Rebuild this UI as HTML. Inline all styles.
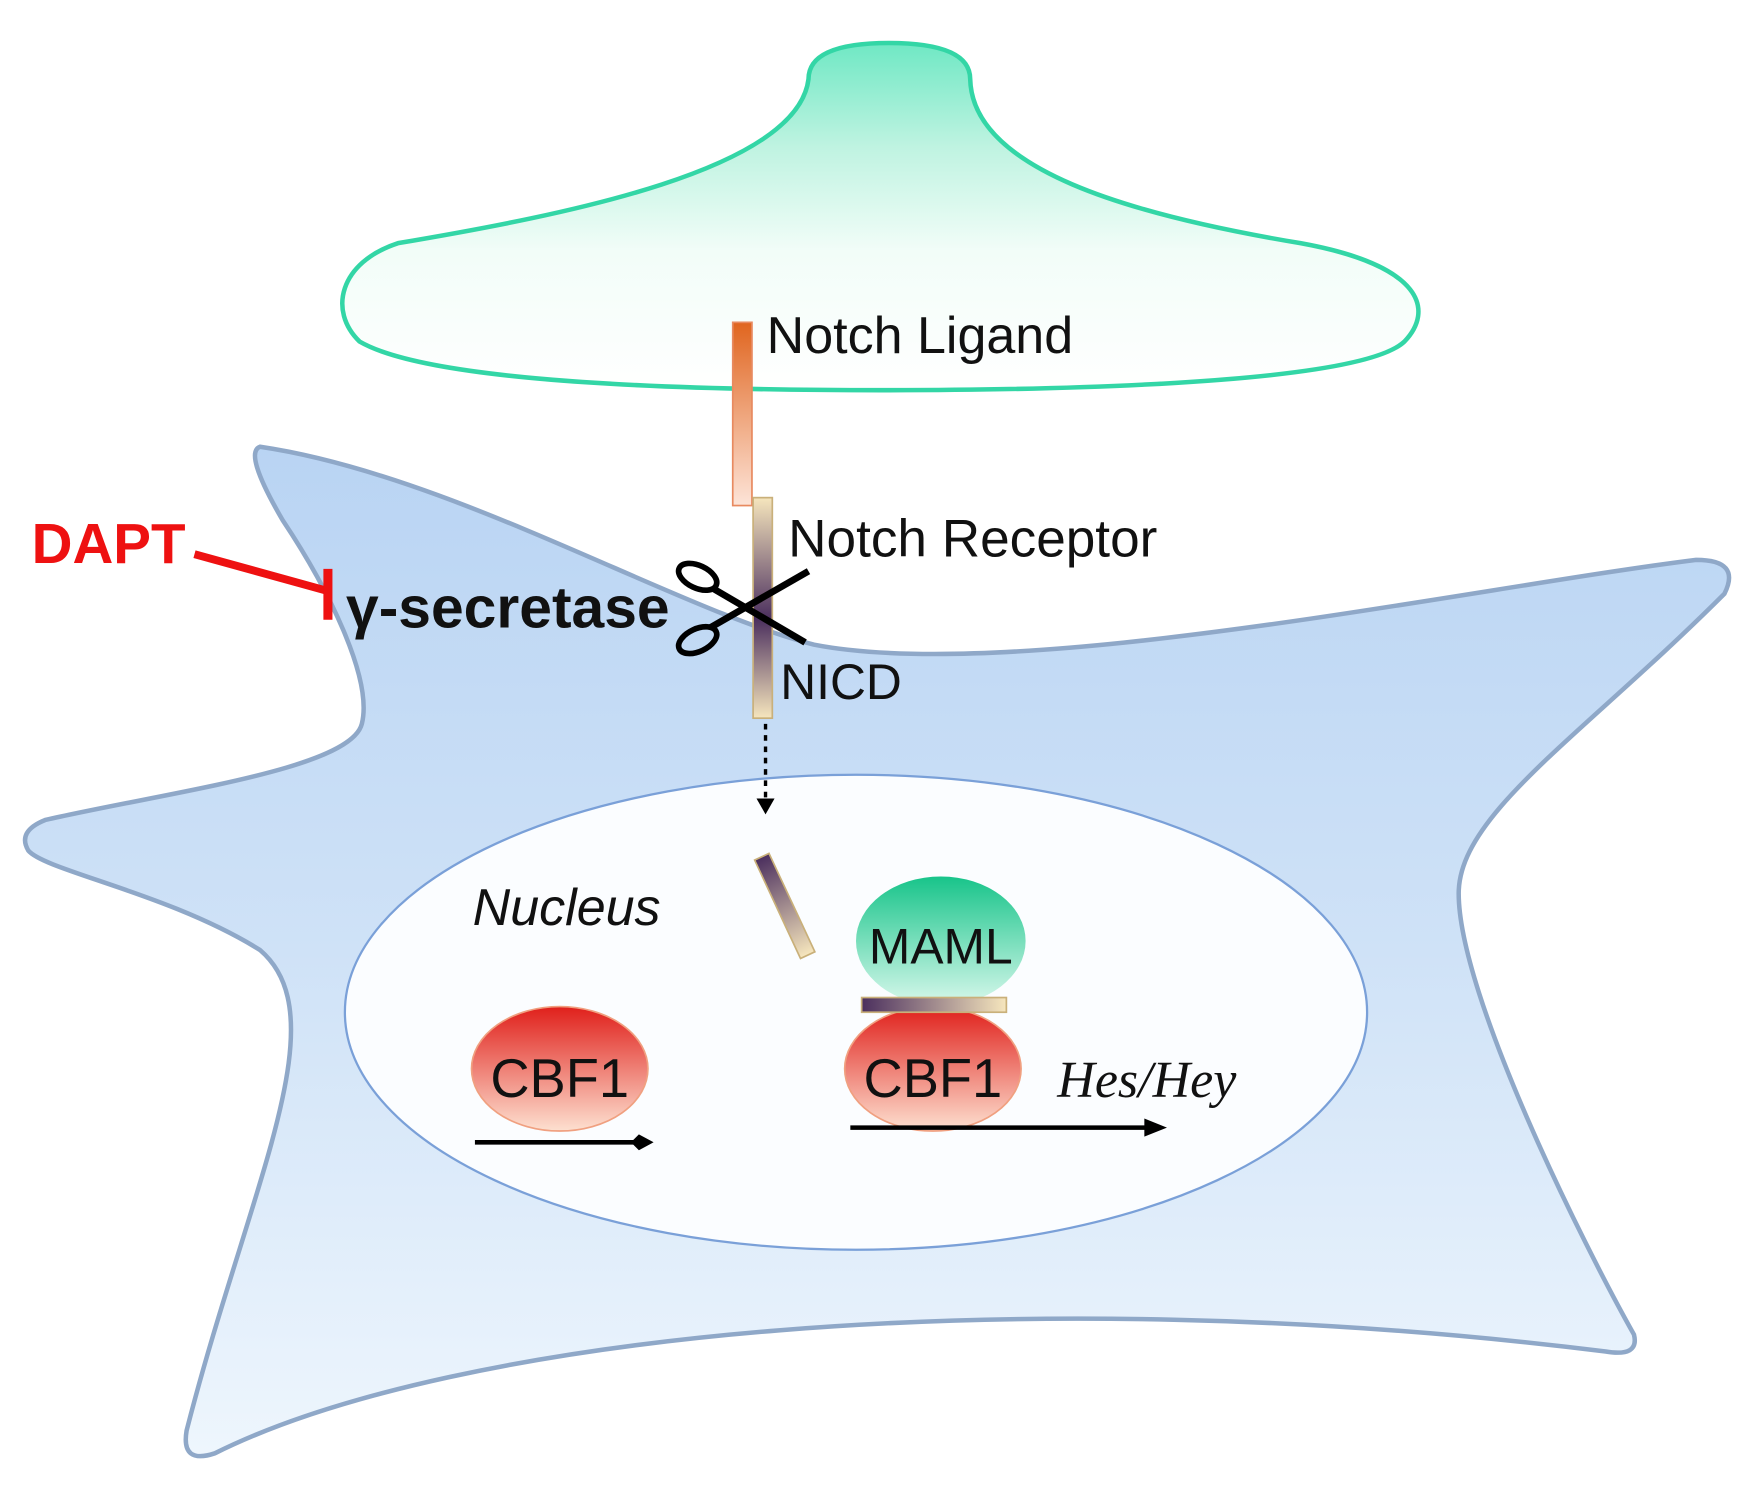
<!DOCTYPE html>
<html><head><meta charset="utf-8"><style>html,body{margin:0;padding:0;background:#fff}svg{display:block}</style></head><body>
<svg width="1764" height="1485" viewBox="0 0 1560 1313" preserveAspectRatio="none" xmlns="http://www.w3.org/2000/svg">
<defs>
<linearGradient id="top" x1="0" y1="0" x2="0" y2="1"><stop offset="0" stop-color="#6fe8c4"/><stop offset="0.3" stop-color="#bff3e1"/><stop offset="0.6" stop-color="#f2fdf8"/><stop offset="1" stop-color="#ffffff"/></linearGradient>
<linearGradient id="cell" x1="0" y1="0" x2="0" y2="1"><stop offset="0" stop-color="#b9d4f3"/><stop offset="0.5" stop-color="#cfe2f7"/><stop offset="1" stop-color="#eef6fd"/></linearGradient>
<linearGradient id="lig" x1="0" y1="0" x2="0" y2="1"><stop offset="0" stop-color="#e0651f"/><stop offset="1" stop-color="#fde4d8"/></linearGradient>
<linearGradient id="rec" x1="0" y1="0" x2="0" y2="1"><stop offset="0" stop-color="#f6e6bd"/><stop offset="0.55" stop-color="#4b2f5e"/><stop offset="1" stop-color="#f6e6bd"/></linearGradient>
<linearGradient id="frag" x1="0" y1="0" x2="0" y2="1"><stop offset="0" stop-color="#4b2f5e"/><stop offset="1" stop-color="#f6e6bd"/></linearGradient>
<linearGradient id="hbar" x1="0" y1="0" x2="1" y2="0"><stop offset="0" stop-color="#4b2f5e"/><stop offset="1" stop-color="#f6e6bd"/></linearGradient>
<linearGradient id="maml" x1="0" y1="0" x2="0" y2="1"><stop offset="0" stop-color="#18c48a"/><stop offset="1" stop-color="#d8f8ec"/></linearGradient>
<linearGradient id="cbf" x1="0" y1="0" x2="0" y2="1"><stop offset="0" stop-color="#e0201b"/><stop offset="1" stop-color="#fde0d0"/></linearGradient>
</defs>
<path d="M715,70 Q715,38 786,38 Q858,38 858,70 C860,150 1000,190 1150,215 C1260,235 1268,275 1242,302 C1200,342 900,345 780,345 C600,345 380,338 318,302 C290,275 300,232 352,215 C500,190 705,150 715,70 Z" fill="url(#top)" stroke="#33d6a6" stroke-width="4"/>
<path d="M230,395 C400,420 600,540 720,570 C900,605 1300,520 1500,495 Q1540,495 1525,525 C1400,650 1290,720 1290,790 C1290,880 1400,1100 1445,1180 Q1450,1200 1420,1195 C900,1130 400,1180 190,1285 Q160,1295 165,1265 C220,1050 300,900 230,840 C150,790 40,770 25,752 Q15,735 40,725 C150,700 310,680 320,640 C330,600 290,520 250,460 Q215,400 230,395 Z" fill="url(#cell)" stroke="#8fa8c8" stroke-width="4"/>
<ellipse cx="757" cy="895" rx="452" ry="210" fill="#fbfdff" stroke="#7aa0d8" stroke-width="2"/>
<rect x="648" y="285" width="17" height="162" fill="url(#lig)" stroke="#e88a60" stroke-width="1.5"/>
<rect x="666" y="440" width="17" height="195" fill="url(#rec)" stroke="#c9b07a" stroke-width="1.5"/>
<line x1="677" y1="640" x2="677" y2="708" stroke="#000" stroke-width="3" stroke-dasharray="5,5"/>
<polygon points="669,706 685,706 677,720" fill="#000"/>
<g transform="rotate(-25 694 801)"><rect x="687" y="753" width="14" height="96" fill="url(#frag)" stroke="#c9b07a" stroke-width="1.5"/></g>
<ellipse cx="832" cy="832" rx="75" ry="57" fill="url(#maml)"/>
<ellipse cx="825" cy="945" rx="78" ry="55" fill="url(#cbf)" stroke="#f0a080" stroke-width="1.5"/>
<rect x="762" y="882" width="128" height="13" fill="url(#hbar)" stroke="#c9b07a" stroke-width="1.5"/>
<ellipse cx="495" cy="945" rx="78" ry="55" fill="url(#cbf)" stroke="#f0a080" stroke-width="1.5"/>
<line x1="420" y1="1010" x2="570" y2="1010" stroke="#000" stroke-width="4"/>
<polygon points="565,1003 578,1010 565,1017 558,1010" fill="#000"/>
<line x1="752" y1="997" x2="1015" y2="997" stroke="#000" stroke-width="4"/>
<polygon points="1012,989 1032,997 1012,1005" fill="#000"/>
<line x1="172" y1="490" x2="288" y2="522" stroke="#ee1111" stroke-width="7"/>
<line x1="290" y1="503" x2="290" y2="548" stroke="#ee1111" stroke-width="8"/>
<g stroke="#000" fill="none" stroke-width="6">
<line x1="628" y1="555" x2="715" y2="505"/>
<line x1="630" y1="520" x2="712" y2="568"/>
<ellipse cx="617" cy="510" rx="18" ry="10" transform="rotate(25 617 510)" stroke-width="5"/>
<ellipse cx="617" cy="566" rx="18" ry="10" transform="rotate(-25 617 566)" stroke-width="5"/>
</g>
<g font-family="Liberation Sans, sans-serif">
<text x="678" y="312" font-size="46" fill="#111">Notch Ligand</text>
<text x="697" y="492" font-size="47" fill="#111">Notch Receptor</text>
<text x="690" y="618" font-size="44" fill="#111">NICD</text>
<text x="306" y="555" font-size="52" font-weight="bold" fill="#111">γ-secretase</text>
<text x="28" y="498" font-size="50" font-weight="bold" fill="#ee1111">DAPT</text>
<text x="418" y="818" font-size="46" font-style="italic" fill="#111">Nucleus</text>
<text x="832" y="852" font-size="44" fill="#111" text-anchor="middle">MAML</text>
<text x="825" y="970" font-size="48" fill="#111" text-anchor="middle">CBF1</text>
<text x="495" y="970" font-size="48" fill="#111" text-anchor="middle">CBF1</text>
</g>
<text x="935" y="970" font-size="46" font-style="italic" font-family="Liberation Serif, serif" fill="#111">Hes/Hey</text>
</svg>
</body></html>
